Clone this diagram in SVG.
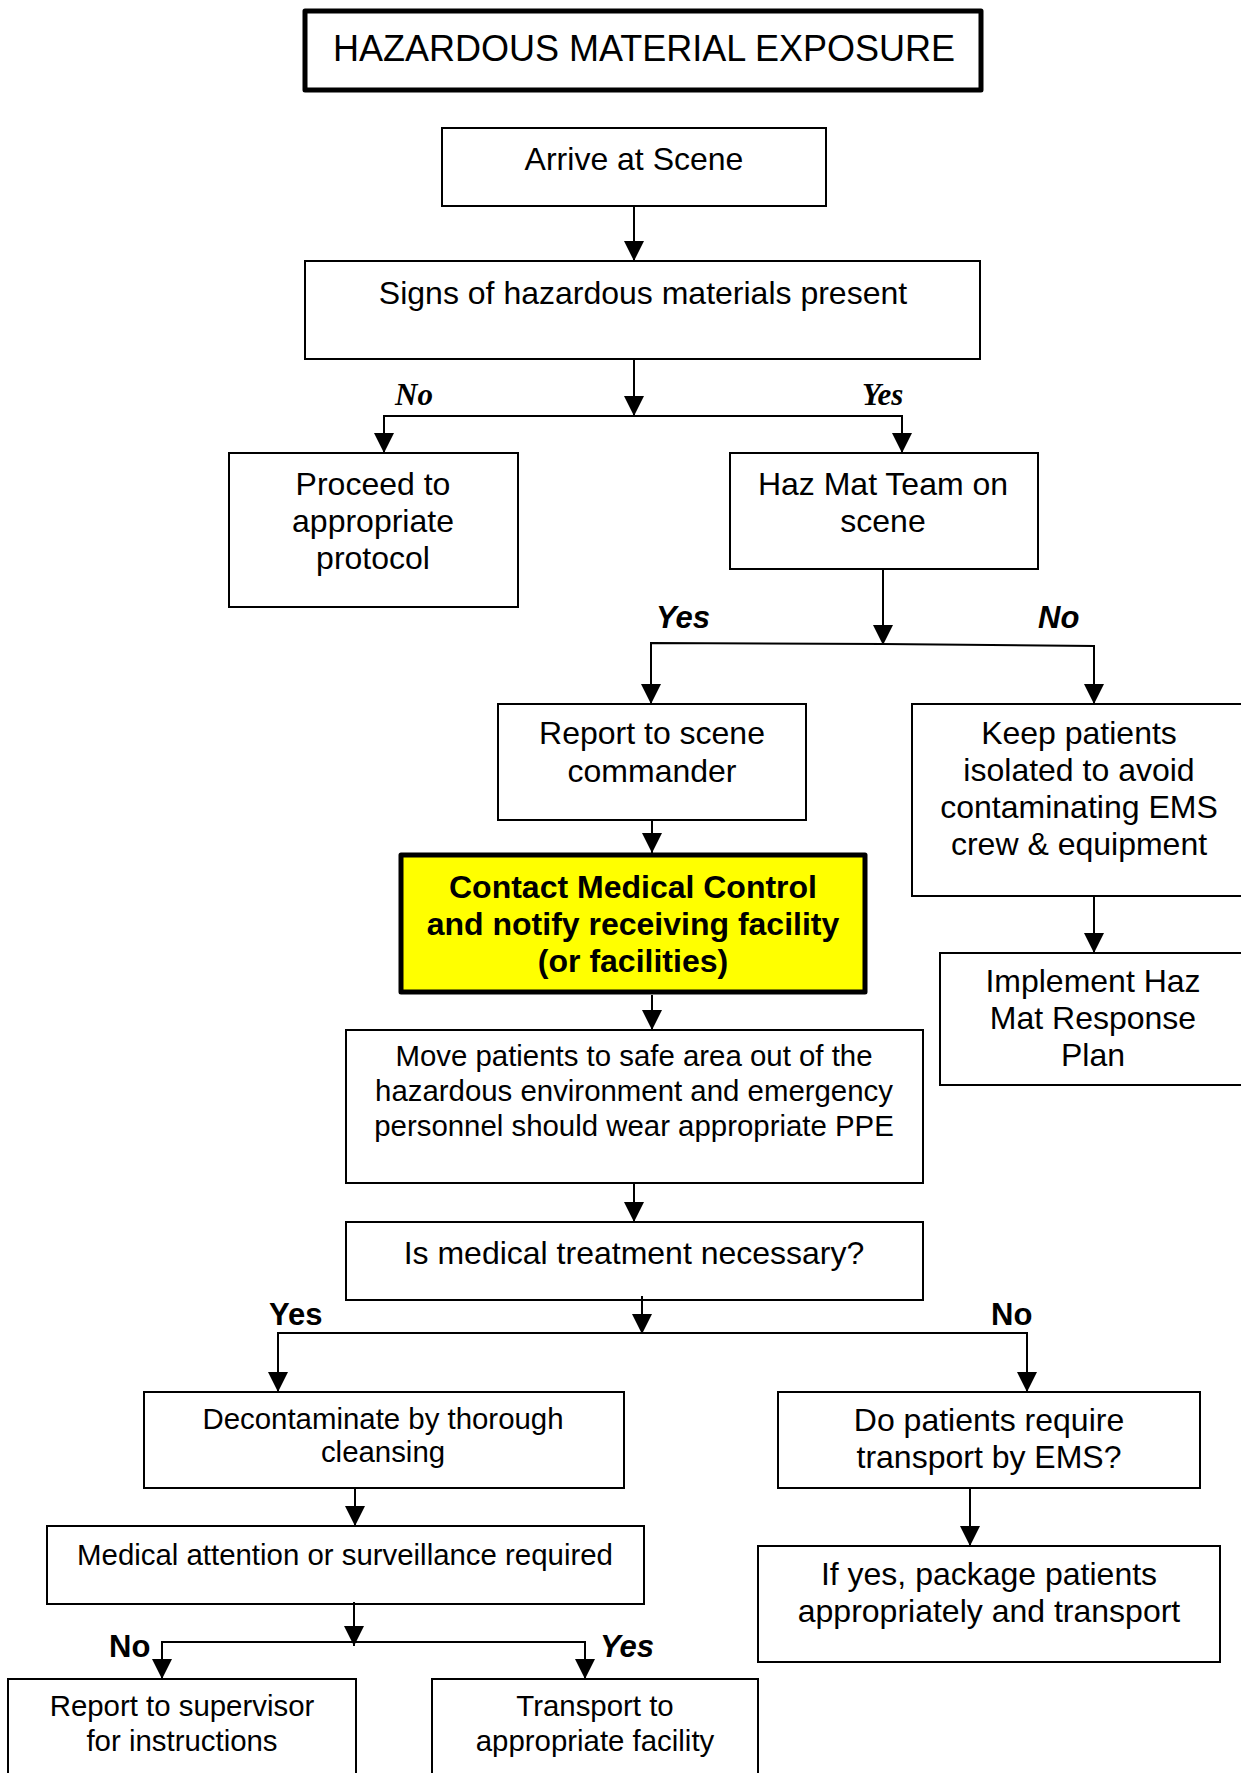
<svg xmlns="http://www.w3.org/2000/svg" width="1241" height="1773" viewBox="0 0 1241 1773">
  <style>
    .box { fill: #ffffff; stroke: #000000; stroke-width: 2; }
    .title { fill: #ffffff; stroke: #000000; stroke-width: 5; stroke-linejoin: round; }
    .alert { fill: #ffff00; stroke: #000000; stroke-width: 5; stroke-linejoin: round; }
    .t32 { font-family: "Liberation Sans", Arial, sans-serif; font-size: 32px; fill: #000; text-anchor: middle; }
    .t29 { font-family: "Liberation Sans", Arial, sans-serif; font-size: 29.4px; fill: #000; text-anchor: middle; }
    .t36 { font-family: "Liberation Sans", Arial, sans-serif; font-size: 36px; fill: #000; text-anchor: middle; }
    .tb { font-family: "Liberation Sans", Arial, sans-serif; font-size: 32px; font-weight: bold; fill: #000; text-anchor: middle; }
    .lbl-serif { font-family: "Liberation Serif", "Times New Roman", serif; font-size: 31px; font-weight: bold; font-style: italic; fill: #000; }
    .lbl { font-family: "Liberation Sans", Arial, sans-serif; font-size: 31px; font-weight: bold; fill: #000; }
    .lbl-i { font-family: "Liberation Sans", Arial, sans-serif; font-size: 31px; font-weight: bold; font-style: italic; fill: #000; }
    .arrow { fill: none; stroke: #000; stroke-width: 2; marker-end: url(#head); }
  </style>
  <defs>
    <marker id="head" markerUnits="userSpaceOnUse" markerWidth="20" markerHeight="20" refX="20" refY="10" orient="auto">
      <path d="M0,0 L20,10 L0,20 Z" fill="#000"/>
    </marker>
  </defs>

  <rect x="0" y="0" width="1241" height="1773" fill="#ffffff"/>

  <g id="title">
    <rect class="title" x="305" y="11" width="676" height="79"/>
    <text class="t36" x="644" y="61">HAZARDOUS MATERIAL EXPOSURE</text>
  </g>

  <g id="arrive">
    <rect class="box" x="442" y="128" width="384" height="78"/>
    <text class="t32" x="634" y="170">Arrive at Scene</text>
  </g>

  <g id="signs">
    <rect class="box" x="305" y="261" width="675" height="98"/>
    <text class="t32" x="643" y="304">Signs of hazardous materials present</text>
  </g>

  <g id="proceed">
    <rect class="box" x="229" y="453" width="289" height="154"/>
    <text class="t32" x="373" y="495">Proceed to</text>
    <text class="t32" x="373" y="532">appropriate</text>
    <text class="t32" x="373" y="569">protocol</text>
  </g>

  <g id="hazmat-team">
    <rect class="box" x="730" y="453" width="308" height="116"/>
    <text class="t32" x="883" y="495">Haz Mat Team on</text>
    <text class="t32" x="883" y="532">scene</text>
  </g>

  <g id="report-commander">
    <rect class="box" x="498" y="704" width="308" height="116"/>
    <text class="t32" x="652" y="744">Report to scene</text>
    <text class="t32" x="652" y="782">commander</text>
  </g>

  <g id="keep-isolated">
    <rect class="box" x="912" y="704" width="334" height="192"/>
    <text class="t32" x="1079" y="744">Keep patients</text>
    <text class="t32" x="1079" y="781">isolated to avoid</text>
    <text class="t32" x="1079" y="818">contaminating EMS</text>
    <text class="t32" x="1079" y="855">crew &amp; equipment</text>
  </g>

  <g id="implement-plan">
    <rect class="box" x="940" y="953" width="306" height="132"/>
    <text class="t32" x="1093" y="992">Implement Haz</text>
    <text class="t32" x="1093" y="1029">Mat Response</text>
    <text class="t32" x="1093" y="1066">Plan</text>
  </g>

  <g id="contact-control">
    <rect class="alert" x="401" y="855" width="464" height="137"/>
    <text class="tb" x="633" y="898">Contact Medical Control</text>
    <text class="tb" x="633" y="935">and notify receiving facility</text>
    <text class="tb" x="633" y="972">(or facilities)</text>
  </g>

  <g id="move-patients">
    <rect class="box" x="346" y="1030" width="577" height="153"/>
    <text class="t29" x="634" y="1066">Move patients to safe area out of the</text>
    <text class="t29" x="634" y="1101">hazardous environment and emergency</text>
    <text class="t29" x="634" y="1136">personnel should wear appropriate PPE</text>
  </g>

  <g id="treatment-needed">
    <rect class="box" x="346" y="1222" width="577" height="78"/>
    <text class="t32" x="634" y="1264">Is medical treatment necessary?</text>
  </g>

  <g id="decontaminate">
    <rect class="box" x="144" y="1392" width="480" height="96"/>
    <text class="t29" x="383" y="1429">Decontaminate by thorough</text>
    <text class="t29" x="383" y="1462">cleansing</text>
  </g>

  <g id="require-transport">
    <rect class="box" x="778" y="1392" width="422" height="96"/>
    <text class="t32" x="989" y="1431">Do patients require</text>
    <text class="t32" x="989" y="1468">transport by EMS?</text>
  </g>

  <g id="medical-attention">
    <rect class="box" x="47" y="1526" width="597" height="78"/>
    <text class="t29" x="345" y="1565">Medical attention or surveillance required</text>
  </g>

  <g id="package-transport">
    <rect class="box" x="758" y="1546" width="462" height="116"/>
    <text class="t32" x="989" y="1585">If yes, package patients</text>
    <text class="t32" x="989" y="1622">appropriately and transport</text>
  </g>

  <g id="report-supervisor">
    <rect class="box" x="8" y="1679" width="348" height="110"/>
    <text class="t29" x="182" y="1716">Report to supervisor</text>
    <text class="t29" x="182" y="1751">for instructions</text>
  </g>

  <g id="transport-facility">
    <rect class="box" x="432" y="1679" width="326" height="110"/>
    <text class="t29" x="595" y="1716">Transport to</text>
    <text class="t29" x="595" y="1751">appropriate facility</text>
  </g>

  <g id="connectors">
    <path class="arrow" d="M634,206 V261"/>
    <path class="arrow" d="M634,359 V416"/>
    <path class="arrow" d="M634,416 H384 V453"/>
    <path class="arrow" d="M634,416 H902 V453"/>

    <path class="arrow" d="M883,569 V645"/>
    <path class="arrow" d="M883,644 L651,643 V704"/>
    <path class="arrow" d="M883,644 L1094,646 V704"/>

    <path class="arrow" d="M652,820 V853"/>
    <path class="arrow" d="M1094,896 V953"/>
    <path class="arrow" d="M652,995 V1030"/>
    <path class="arrow" d="M634,1183 V1222"/>

    <path class="arrow" d="M642,1296 V1334"/>
    <path class="arrow" d="M642,1333 H278 V1392"/>
    <path class="arrow" d="M642,1333 H1027 V1392"/>

    <path class="arrow" d="M355,1488 V1526"/>
    <path class="arrow" d="M970,1488 V1546"/>

    <path class="arrow" d="M354,1602 V1646"/>
    <path class="arrow" d="M354,1642 H162 V1679"/>
    <path class="arrow" d="M354,1642 H585 V1679"/>
  </g>

  <g id="branch-labels">
    <text class="lbl-serif" x="395" y="405">No</text>
    <text class="lbl-serif" x="862" y="405">Yes</text>
    <text class="lbl-i" x="656" y="628">Yes</text>
    <text class="lbl-i" x="1038" y="628">No</text>
    <text class="lbl" x="269" y="1325">Yes</text>
    <text class="lbl" x="991" y="1325">No</text>
    <text class="lbl" x="109" y="1657">No</text>
    <text class="lbl-i" x="600" y="1657">Yes</text>
  </g>
</svg>
